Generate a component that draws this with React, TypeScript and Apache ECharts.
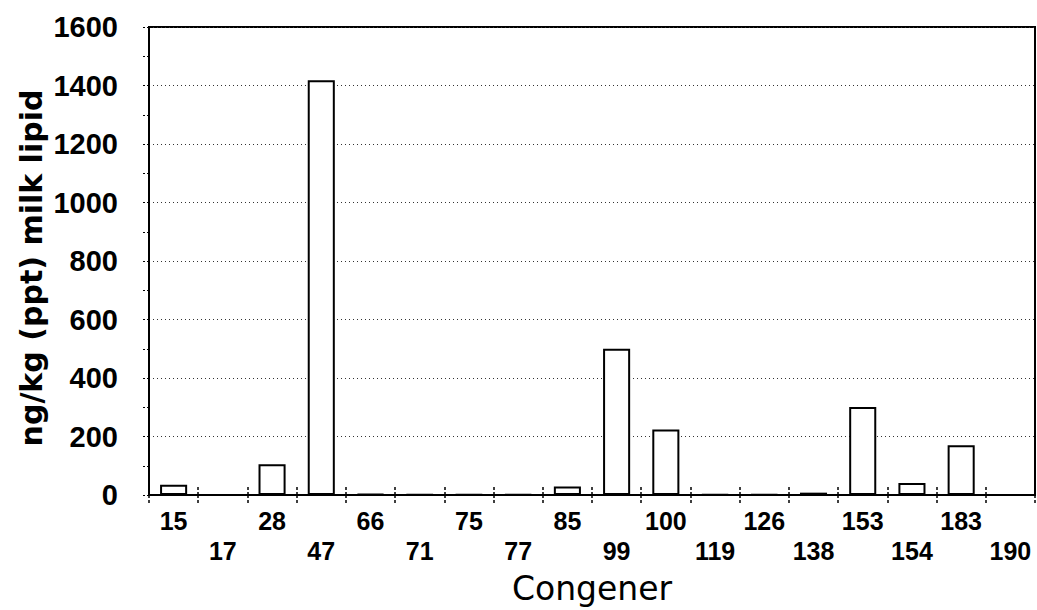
import React, { useEffect, useRef } from "react";
import * as echarts from "echarts";

const congeners = ["15", "17", "28", "47", "66", "71", "75", "77", "85", "99", "100", "119", "126", "138", "153", "154", "183", "190"];
const values = [35, 0, 105, 1418, 3, 1, 1, 2, 29, 500, 224, 2, 2, 8, 301, 41, 170, 0];
const yTicks = [0, 200, 400, 600, 800, 1000, 1200, 1400, 1600];
const yTitle = "ng/kg (ppt) milk lipid";
const xTitle = "Congener";

export default function App() {
  const ref = useRef<HTMLDivElement>(null);
  useEffect(() => {
    const chart = echarts.init(ref.current!, null, { renderer: "svg" });
    const option: any = {
      animation: false,
      backgroundColor: "#fff",
      grid: {
        left: 149,
        right: 2,
        top: 27,
        bottom: 115,
        show: true,
        borderColor: "#000",
        borderWidth: 2,
        backgroundColor: "transparent",
      },
      xAxis: [
        {
          type: "category",
          data: congeners,
          boundaryGap: true,
          axisLine: { show: true, lineStyle: { color: "#000", width: 2 } },
          axisTick: {
            show: true,
            alignWithLabel: false,
            length: 9,
            lineStyle: { color: "#000", width: 1.5, type: [3, 2] },
          },
          axisLabel: {
            interval: 0,
            margin: 11,
            color: "#000",
            fontFamily: "'Liberation Sans', Arial, sans-serif",
            fontWeight: "bold",
            fontSize: 25,
            lineHeight: 30,
            formatter: (v: string, i: number) => (i % 2 === 1 ? "\n" + v : v),
          },
          splitLine: { show: false },
        },
        {
          type: "category",
          data: congeners,
          position: "bottom",
          boundaryGap: true,
          axisLine: { show: false },
          axisTick: {
            show: true,
            inside: true,
            length: 8,
            lineStyle: { color: "#000", width: 1.5, type: [3, 2] },
          },
          axisLabel: { show: false },
          splitLine: { show: false },
        },
      ],
      yAxis: {
        type: "value",
        min: yTicks[0],
        max: yTicks[yTicks.length - 1],
        interval: 200,
        axisLine: { show: true, lineStyle: { color: "#000", width: 2 } },
        axisTick: { show: true, length: 7, lineStyle: { color: "#000", width: 1, type: [2, 2] } },
        minorTick: { show: true, splitNumber: 2, length: 6, lineStyle: { color: "#000", width: 1, type: [2, 2] } },
        axisLabel: {
          margin: 31,
          color: "#000",
          fontFamily: "'Liberation Sans', Arial, sans-serif",
          fontWeight: "bold",
          fontSize: 29,
          formatter: (v: number) => String(v),
        },
        splitLine: { show: true, lineStyle: { color: "#333", width: 1, type: [1, 3] } },
      },
      series: [
        {
          type: "bar",
          data: values,
          barWidth: "55%",
          itemStyle: { color: "#fff", borderColor: "#000", borderWidth: 2 },
        },
      ],
      graphic: [
        {
          type: "text",
          x: 31,
          y: 268,
          rotation: Math.PI / 2,
          style: {
            text: yTitle,
            fill: "#000",
            font: "bold 30px 'DejaVu Sans', sans-serif",
            align: "center",
            verticalAlign: "middle",
          },
        },
        {
          type: "text",
          x: 592,
          y: 588,
          style: {
            text: xTitle,
            fill: "#000",
            font: "33px 'DejaVu Sans', sans-serif",
            align: "center",
            verticalAlign: "middle",
          },
        },
      ],
    };
    chart.setOption(option);
    return () => chart.dispose();
  }, []);
  return (
    <div
      ref={ref}
      style={{ position: "absolute", left: 0, top: 0, width: 1037, height: 610, background: "#fff" }}
    />
  );
}
